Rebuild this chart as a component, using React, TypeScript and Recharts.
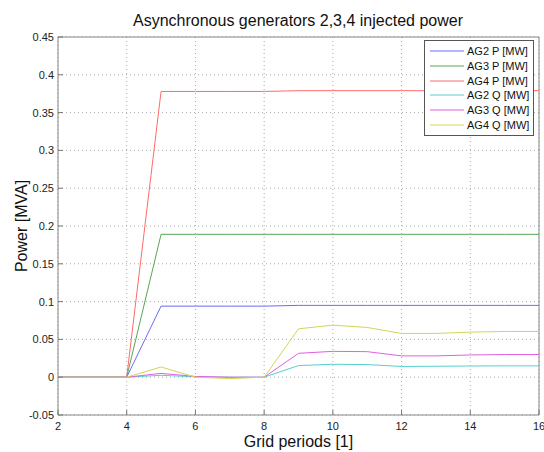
import { LineChart, Line, XAxis, YAxis, CartesianGrid, Legend, ReferenceLine } from "recharts"

const periods = [2, 3, 4, 5, 6, 7, 8, 9, 10, 11, 12, 13, 14, 15, 16]
const ag2P = [0, 0, 0, 0.094, 0.094, 0.094, 0.094, 0.095, 0.095, 0.095, 0.095, 0.095, 0.095, 0.095, 0.095]
const ag3P = [0, 0, 0, 0.189, 0.189, 0.189, 0.189, 0.189, 0.189, 0.189, 0.189, 0.189, 0.189, 0.189, 0.189]
const ag4P = [0, 0, 0, 0.378, 0.378, 0.378, 0.378, 0.379, 0.379, 0.379, 0.379, 0.379, 0.379, 0.379, 0.379]
const ag2Q = [0, 0, 0, 0.0025, 0.0005, 0, 0, 0.0154, 0.0171, 0.0167, 0.0142, 0.0145, 0.0148, 0.015, 0.015]
const ag3Q = [0, 0, 0, 0.005, 0.001, 0, 0, 0.0316, 0.0342, 0.0338, 0.0282, 0.0282, 0.0294, 0.03, 0.03]
const ag4Q = [0, 0, 0, 0.0135, 0, -0.0018, 0, 0.064, 0.0689, 0.0658, 0.0579, 0.0579, 0.0596, 0.0605, 0.0605]

const xTicks = [2, 4, 6, 8, 10, 12, 14, 16]
const yTicks = [-0.05, 0, 0.05, 0.1, 0.15, 0.2, 0.25, 0.3, 0.35, 0.4, 0.45]

const series = [
  { key: "ag2P", name: "AG2 P [MW]", values: ag2P, color: "#6a6aff" },
  { key: "ag3P", name: "AG3 P [MW]", values: ag3P, color: "#55a855" },
  { key: "ag4P", name: "AG4 P [MW]", values: ag4P, color: "#ff6a6a" },
  { key: "ag2Q", name: "AG2 Q [MW]", values: ag2Q, color: "#55d0d0" },
  { key: "ag3Q", name: "AG3 Q [MW]", values: ag3Q, color: "#e060e0" },
  { key: "ag4Q", name: "AG4 Q [MW]", values: ag4Q, color: "#d4d455" },
]

const data = periods.map((p, i) => {
  const row: Record<string, number> = { period: p }
  series.forEach((s) => (row[s.key] = s.values[i]))
  return row
})

const font = "Arial, 'Liberation Sans', sans-serif"

function XTick(props: any) {
  const { x, y, payload } = props
  return (
    <g>
      <line x1={x} y1={y} x2={x} y2={y - 5} stroke="#777" />
      <text x={x} y={y + 15} textAnchor="middle" fontSize={11} fill="#222" fontFamily={font}>
        {payload.value}
      </text>
    </g>
  )
}

function YTick(props: any) {
  const { x, y, payload } = props
  return (
    <g>
      <line x1={x} y1={y} x2={x + 5} y2={y} stroke="#777" />
      <text x={x - 4} y={y + 4} textAnchor="end" fontSize={11} fill="#222" fontFamily={font}>
        {payload.value}
      </text>
    </g>
  )
}

function LegendBox(props: any) {
  const order = series.map((s) => s.name)
  const items = [...(props.payload || [])].sort((a: any, b: any) => order.indexOf(a.value) - order.indexOf(b.value))
  return (
    <div
      style={{
        background: "#fff",
        border: "1px solid #555",
        padding: "3px 4px 3px 5px",
        fontFamily: font,
        fontSize: 11,
        color: "#111",
      }}
    >
      {items.map((p: any) => (
        <div key={p.value} style={{ display: "flex", alignItems: "center", height: 14.7 }}>
          <svg width={34} height={4} style={{ marginRight: 3 }}>
            <line x1={0} y1={2} x2={34} y2={2} stroke={p.color} strokeWidth={1} />
          </svg>
          <span>{p.value}</span>
        </div>
      ))}
    </div>
  )
}

export default function App() {
  return (
    <div style={{ position: "absolute", left: 0, top: 0, width: 544, height: 452, background: "#fff" }}>
      <LineChart width={544} height={452} data={data} margin={{ top: 37, right: 5, left: 0, bottom: 0 }}>
        <text x={298} y={26} textAnchor="middle" fontSize={16} fill="#111" fontFamily={font}>
          Asynchronous generators 2,3,4 injected power
        </text>
        <CartesianGrid stroke="#aaa" strokeDasharray="1 3" />
        <XAxis
          dataKey="period"
          type="number"
          domain={[2, 16]}
          ticks={xTicks}
          height={37}
          tickSize={0}
          tickMargin={0}
          tickLine={false}
          tick={<XTick />}
          axisLine={{ stroke: "#888" }}
          interval={0}
          label={{ value: "Grid periods [1]", position: "insideBottom", offset: 5, fontSize: 16, fill: "#111", fontFamily: font }}
        />
        <YAxis
          type="number"
          domain={[-0.05, 0.45]}
          ticks={yTicks}
          width={58}
          tickSize={0}
          tickMargin={0}
          tickLine={false}
          tick={<YTick />}
          axisLine={{ stroke: "#888" }}
          interval={0}
          allowDataOverflow
          label={{ value: "Power [MVA]", angle: -90, position: "center", dx: -8, fontSize: 16, fill: "#111", fontFamily: font }}
        />
        <ReferenceLine y={0.45} stroke="#888" />
        <ReferenceLine x={16} stroke="#888" />
        {series.map((s) => (
          <Line
            key={s.key}
            dataKey={s.key}
            name={s.name}
            stroke={s.color}
            strokeWidth={1}
            dot={false}
            type="linear"
            isAnimationActive={false}
          />
        ))}
        <Legend
          layout="vertical"
          align="center"
          verticalAlign="middle"
          content={<LegendBox />}
          wrapperStyle={{ position: "absolute", left: 424, top: 40, width: "auto" }}
        />
      </LineChart>
    </div>
  )
}
